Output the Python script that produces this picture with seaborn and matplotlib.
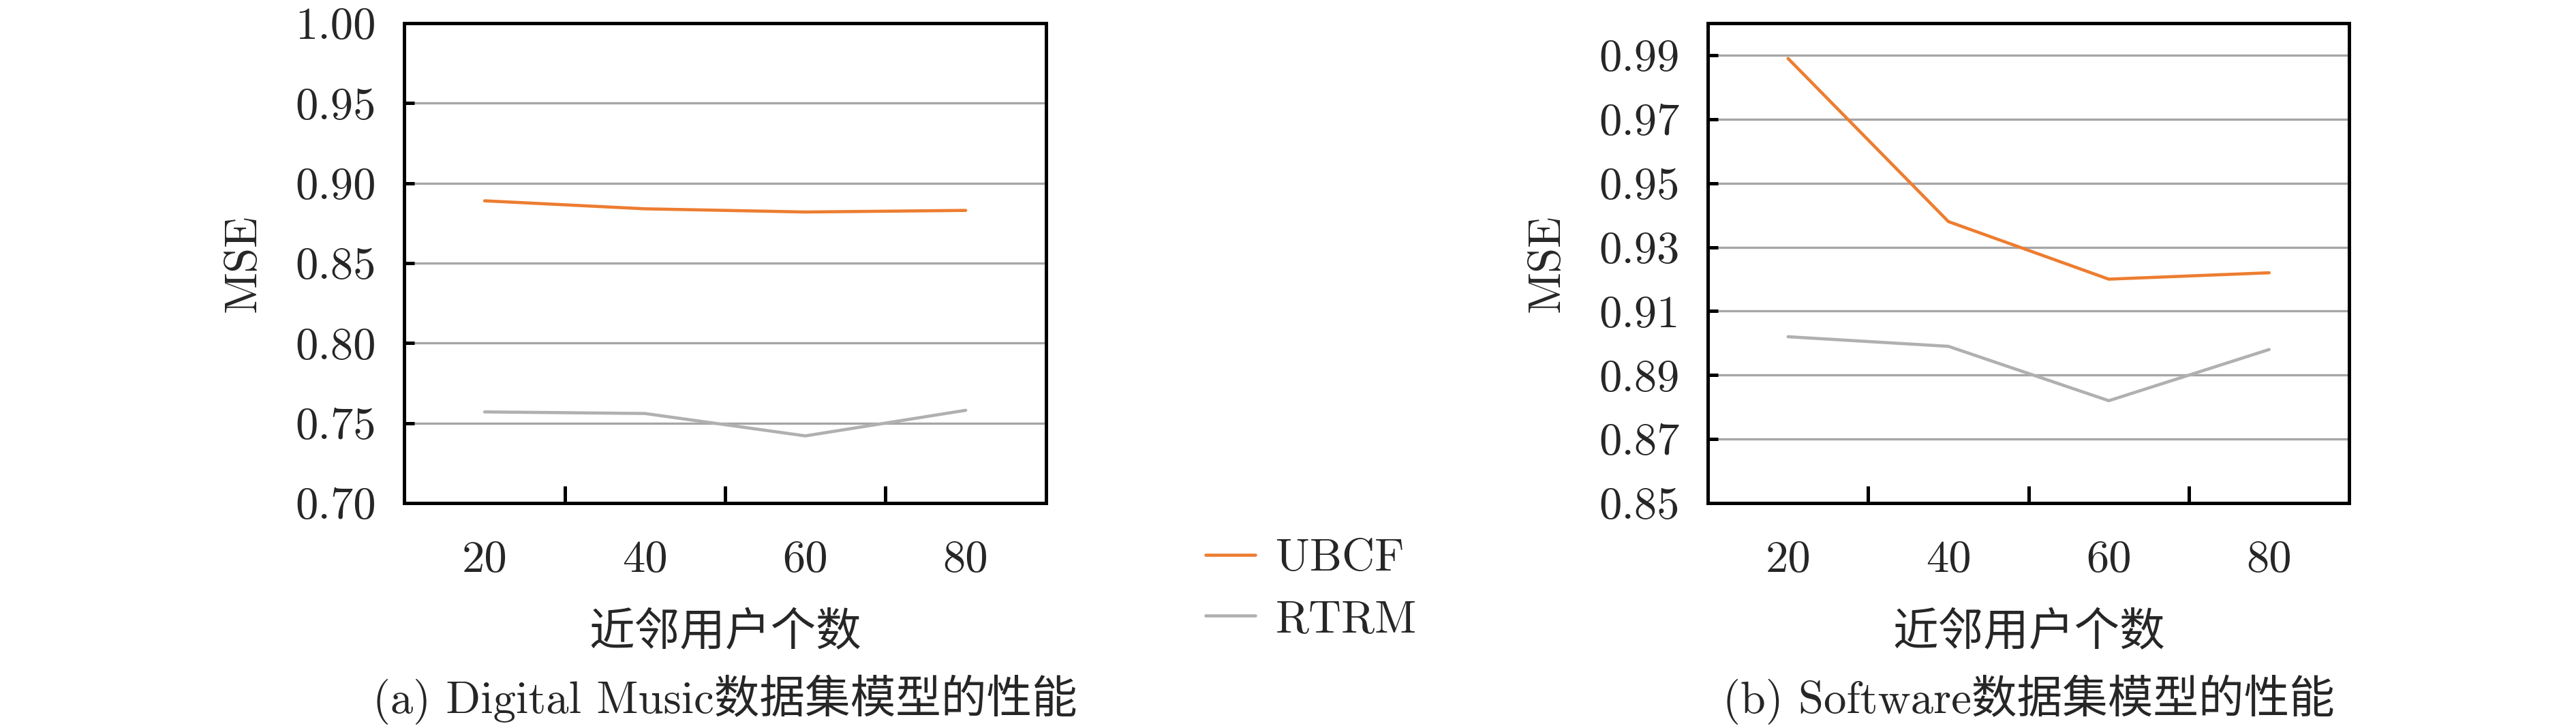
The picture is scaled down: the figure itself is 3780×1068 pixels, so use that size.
import numpy as np
import pandas as pd
import matplotlib
matplotlib.use("Agg")
import matplotlib.pyplot as plt
import matplotlib.ticker as mticker
import seaborn as sns

# ---- data ----
neighbors = ["20", "40", "60", "80"]
models = ["UBCF", "RTRM"]

music_ubcf = [0.889, 0.884, 0.882, 0.883]
music_rtrm = [0.757, 0.756, 0.742, 0.758]

software_ubcf = [0.989, 0.938, 0.920, 0.922]
software_rtrm = [0.902, 0.899, 0.882, 0.898]

music_yticks = [0.70, 0.75, 0.80, 0.85, 0.90, 0.95, 1.00]
software_yticks = [0.85, 0.87, 0.89, 0.91, 0.93, 0.95, 0.97, 0.99]

xlabel = "近邻用户个数"
ylabel = "MSE"
captions = ["(a) Digital Music数据集模型的性能", "(b) Software数据集模型的性能"]

palette = {"UBCF": "#ED7D31", "RTRM": "#B0B0B0"}


def to_long(ubcf, rtrm):
    return pd.DataFrame({
        "k": neighbors * 2,
        "mse": ubcf + rtrm,
        "model": ["UBCF"] * len(ubcf) + ["RTRM"] * len(rtrm),
    })


sns.set_theme(style="white")
plt.rcParams["font.family"] = ["cmr10", "Noto Sans CJK SC", "DejaVu Sans"]
plt.rcParams["axes.formatter.use_mathtext"] = True
FS = 16

fig = plt.figure(figsize=(12.6, 3.56), dpi=300)
ax1 = fig.add_axes([0.157, 0.309, 0.249, 0.659])
ax2 = fig.add_axes([0.663, 0.309, 0.249, 0.659])

panels = [
    (ax1, to_long(music_ubcf, music_rtrm), music_yticks, (0.70, 1.00)),
    (ax2, to_long(software_ubcf, software_rtrm), software_yticks, (0.85, 1.00)),
]

for i, (ax, df, yt, ylim) in enumerate(panels):
    sns.lineplot(data=df, x="k", y="mse", hue="model", hue_order=models,
                 palette=palette, linewidth=1.1, ax=ax, legend=(i == 0))
    ax.set_xlim(-0.5, 3.5)
    ax.set_ylim(*ylim)
    ax.set_yticks(yt)
    ax.yaxis.set_major_formatter(mticker.FormatStrFormatter("%.2f"))
    ax.yaxis.grid(True, color="#A6A6A6", linewidth=0.8)
    ax.set_axisbelow(True)
    for s in ax.spines.values():
        s.set_color("black")
        s.set_linewidth(1.2)
    ax.xaxis.set_minor_locator(mticker.FixedLocator([0.5, 1.5, 2.5]))
    ax.tick_params(axis="x", which="major", length=0, pad=13, labelsize=FS)
    ax.tick_params(axis="x", which="minor", direction="in", length=6,
                   width=1.2, color="black", bottom=True)
    ax.tick_params(axis="y", direction="in", length=3.5, width=1.2,
                   color="black", pad=10, labelsize=FS, left=True)
    ax.set_xlabel(xlabel, fontsize=FS, labelpad=11)
    ax.set_ylabel(ylabel, fontsize=FS, labelpad=11)
    ax.text(0.5, -0.41, captions[i], transform=ax.transAxes,
            ha="center", va="center", fontsize=FS)

handles, labels = ax1.get_legend_handles_labels()
ax1.get_legend().remove()
fig.legend(handles, labels, loc="center left", bbox_to_anchor=(0.452, 0.19),
           frameon=False, fontsize=FS, handlelength=1.1, handletextpad=0.45,
           labelspacing=0.45)

fig.savefig("out.png", dpi=300)
